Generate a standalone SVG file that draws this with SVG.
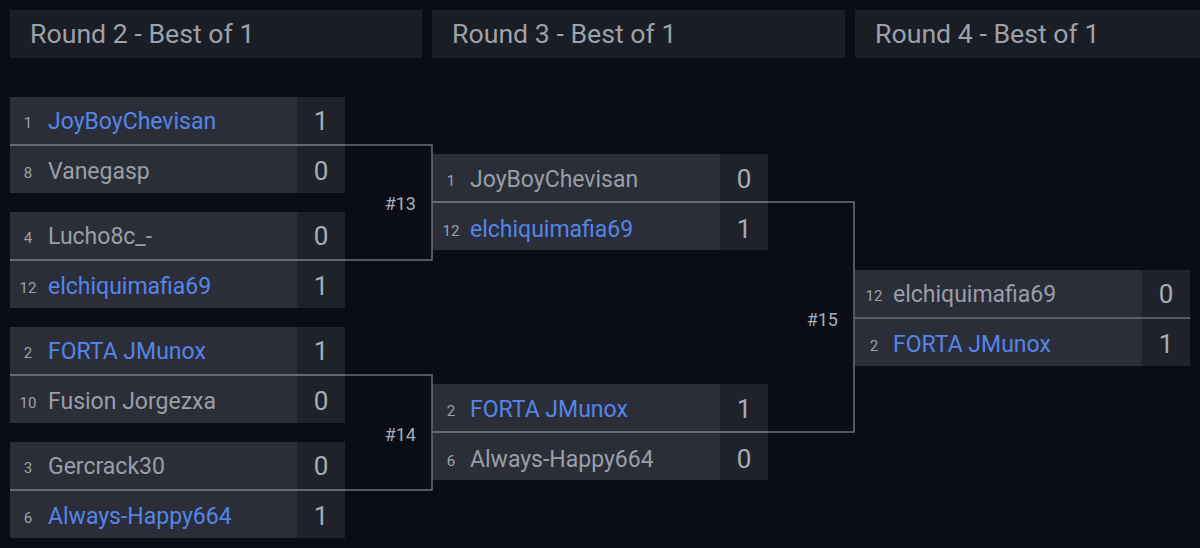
<svg xmlns="http://www.w3.org/2000/svg" width="1200" height="548" viewBox="0 0 1200 548">
<style>
text{font-family:Roboto,"Liberation Sans",sans-serif}
.hdr{fill:#1a1d26}
.hdrt{fill:#9da1a9;font-size:26.7px}
.nm{fill:#2b2e39}
.sc{fill:#1f222b}
.sep{stroke:#6b6f78;stroke-width:1.5}
.seed{fill:#9da1a9;font-size:15px;text-anchor:middle}
.n{font-size:23px;fill:#9a9ea6}
.w{fill:#5585e6}
.s{font-size:26px;fill:#a8acb4;text-anchor:middle}
.lbl{font-size:18px;fill:#a8acb4;text-anchor:end}
.con{fill:none;stroke:#6b6f78;stroke-width:1.5}
</style>
<rect width="1200" height="548" fill="#0a0d16"/>
<g id="headers">
<rect class="hdr" x="10" y="10" width="412" height="48"/>
<text class="hdrt" x="30" y="43">Round 2 - Best of 1</text>
<rect class="hdr" x="432" y="10" width="413" height="48"/>
<text class="hdrt" x="452" y="43">Round 3 - Best of 1</text>
<rect class="hdr" x="855" y="10" width="345" height="48"/>
<text class="hdrt" x="875" y="43">Round 4 - Best of 1</text>
</g>
<g id="match-r2-1">
<rect class="nm" x="10" y="97" width="287" height="96"/><rect class="sc" x="297" y="97" width="48" height="96"/>
<line class="sep" x1="10" y1="145" x2="345" y2="145"/>
<text class="seed" x="28" y="128">1</text><text class="n w" x="48" y="129">JoyBoyChevisan</text><text class="s" x="321" y="130">1</text>
<text class="seed" x="28" y="178">8</text><text class="n" x="48" y="179">Vanegasp</text><text class="s" x="321" y="180">0</text>
</g>
<g id="match-r2-2">
<rect class="nm" x="10" y="212" width="287" height="96"/><rect class="sc" x="297" y="212" width="48" height="96"/>
<line class="sep" x1="10" y1="260" x2="345" y2="260"/>
<text class="seed" x="28" y="243">4</text><text class="n" x="48" y="244">Lucho8c_-</text><text class="s" x="321" y="245">0</text>
<text class="seed" x="28" y="293">12</text><text class="n w" x="48" y="294">elchiquimafia69</text><text class="s" x="321" y="295">1</text>
</g>
<g id="match-r2-3">
<rect class="nm" x="10" y="327" width="287" height="96"/><rect class="sc" x="297" y="327" width="48" height="96"/>
<line class="sep" x1="10" y1="375" x2="345" y2="375"/>
<text class="seed" x="28" y="358">2</text><text class="n w" x="48" y="359">FORTA JMunox</text><text class="s" x="321" y="360">1</text>
<text class="seed" x="28" y="408">10</text><text class="n" x="48" y="409">Fusion Jorgezxa</text><text class="s" x="321" y="410">0</text>
</g>
<g id="match-r2-4">
<rect class="nm" x="10" y="442" width="287" height="96"/><rect class="sc" x="297" y="442" width="48" height="96"/>
<line class="sep" x1="10" y1="490" x2="345" y2="490"/>
<text class="seed" x="28" y="473">3</text><text class="n" x="48" y="474">Gercrack30</text><text class="s" x="321" y="475">0</text>
<text class="seed" x="28" y="523">6</text><text class="n w" x="48" y="524">Always-Happy664</text><text class="s" x="321" y="525">1</text>
</g>
<g id="match-r3-1">
<rect class="nm" x="432" y="154" width="288" height="96"/><rect class="sc" x="720" y="154" width="48" height="96"/>
<line class="sep" x1="432" y1="202" x2="768" y2="202"/>
<text class="seed" x="451" y="186">1</text><text class="n" x="470" y="187">JoyBoyChevisan</text><text class="s" x="744" y="188">0</text>
<text class="seed" x="451" y="236">12</text><text class="n w" x="470" y="237">elchiquimafia69</text><text class="s" x="744" y="238">1</text>
</g>
<g id="match-r3-2">
<rect class="nm" x="432" y="384" width="288" height="96"/><rect class="sc" x="720" y="384" width="48" height="96"/>
<line class="sep" x1="432" y1="432" x2="768" y2="432"/>
<text class="seed" x="451" y="416">2</text><text class="n w" x="470" y="417">FORTA JMunox</text><text class="s" x="744" y="418">1</text>
<text class="seed" x="451" y="466">6</text><text class="n" x="470" y="467">Always-Happy664</text><text class="s" x="744" y="468">0</text>
</g>
<g id="match-r4-1">
<rect class="nm" x="855" y="270" width="287" height="96"/><rect class="sc" x="1142" y="270" width="48" height="96"/>
<line class="sep" x1="855" y1="318" x2="1190" y2="318"/>
<text class="seed" x="874" y="301">12</text><text class="n" x="893" y="302">elchiquimafia69</text><text class="s" x="1166" y="303">0</text>
<text class="seed" x="874" y="351">2</text><text class="n w" x="893" y="352">FORTA JMunox</text><text class="s" x="1166" y="353">1</text>
</g>
<g id="connectors">
<path class="con" d="M10,145 H432 V260 H10"/>
<path class="con" d="M10,375 H432 V490 H10"/>
<path class="con" d="M432,202 H854 V432 H432"/>
<text class="lbl" x="416" y="210">#13</text>
<text class="lbl" x="416" y="441">#14</text>
<text class="lbl" x="838" y="326">#15</text>
</g>
</svg>
